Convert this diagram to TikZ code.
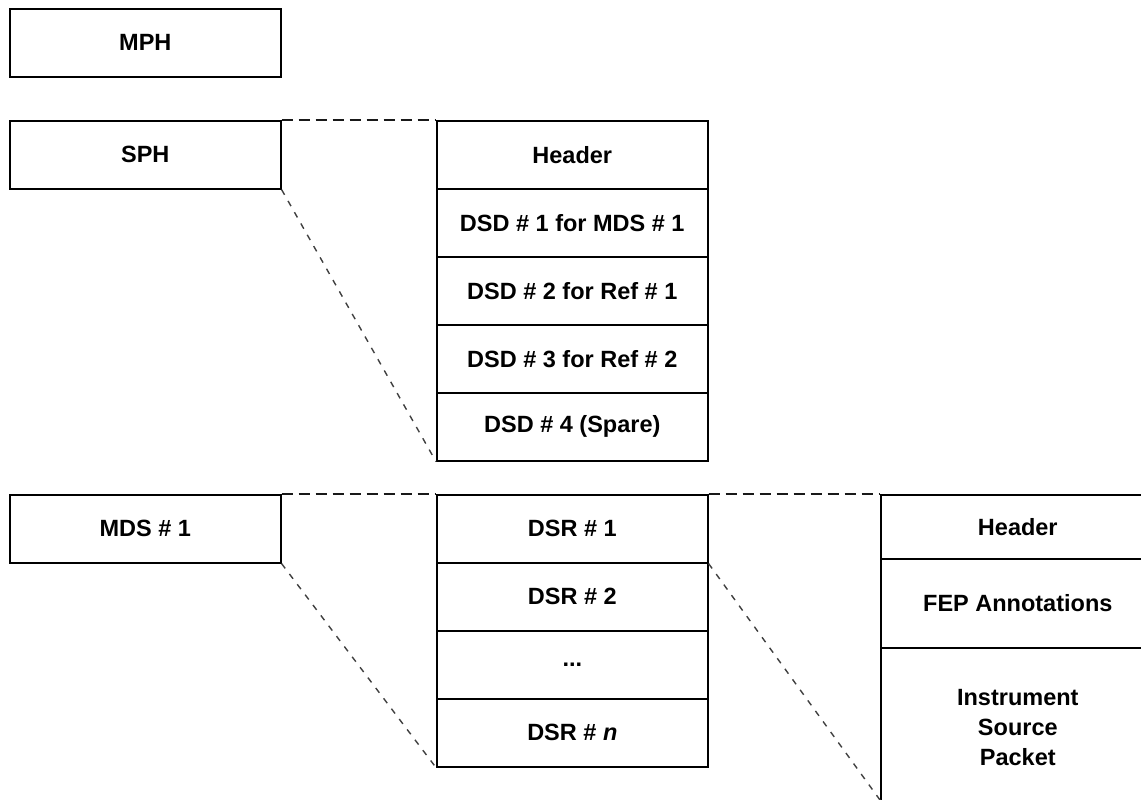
\documentclass[tikz,border=0pt]{standalone}
\usepackage{fontspec}
\setmainfont{Liberation Sans}
\begin{document}
\begin{tikzpicture}[x=1pt,y=-1pt,
  cell/.style={draw=black, line width=1.6pt, rectangle, anchor=north west, inner sep=0pt,
    minimum width=271pt, font=\fontsize{23.5}{30}\selectfont\bfseries, align=center},
  h68/.style={minimum height=68pt},
  dashlink/.style={line width=1.7pt, dash pattern=on 11pt off 6pt, black!90},
  diaglink/.style={line width=1.4pt, dash pattern=on 6pt off 7pt, black!75}]
\useasboundingbox (0,0) rectangle (1141,800);
\clip (0,0) rectangle (1141,800);
% left column
\node[cell,h68] (mph) at (9,8) {MPH};
\node[cell,h68] (sph) at (9,120) {SPH};
\node[cell,h68] (mds) at (9,494) {MDS \# 1};
% DSD column
\node[cell,h68] (hdr)  at (436,120) {Header};
\node[cell,h68] (dsd1) at (436,188) {DSD \# 1 for MDS \# 1};
\node[cell,h68] (dsd2) at (436,256) {DSD \# 2 for Ref \# 1};
\node[cell,h68] (dsd3) at (436,324) {DSD \# 3 for Ref \# 2};
\node[cell,h68] (dsd4) at (436,392) {DSD \# 4 (Spare)};
% DSR column
\node[cell,h68] (dsr1) at (436,494) {DSR \# 1};
\node[cell,h68] (dsr2) at (436,562) {DSR \# 2};
\node[cell,h68] (dsrd) at (436,630) {...};
\node[cell,h68] (dsrn) at (436,698) {DSR \# \textit{n}};
% right column
\node[cell,minimum width=274pt,minimum height=64pt] (rhdr) at (880,494) {Header};
\node[cell,minimum width=274pt,minimum height=89pt] (fep) at (880,558) {FEP Annotations};
\node[cell,minimum width=274pt,minimum height=160pt] (isp) at (880,647) {Instrument\\Source\\Packet};
% connectors
\draw[dashlink] (sph.north east) -- (hdr.north west);
\draw[diaglink] (sph.south east) -- (dsd4.south west);
\draw[dashlink] (mds.north east) -- (dsr1.north west);
\draw[diaglink] (mds.south east) -- (dsrn.south west);
\draw[dashlink] (dsr1.north east) -- (rhdr.north west);
\coordinate (ispend) at (880,800);
\draw[diaglink] (dsr1.south east) -- (ispend);
\end{tikzpicture}
\end{document}
